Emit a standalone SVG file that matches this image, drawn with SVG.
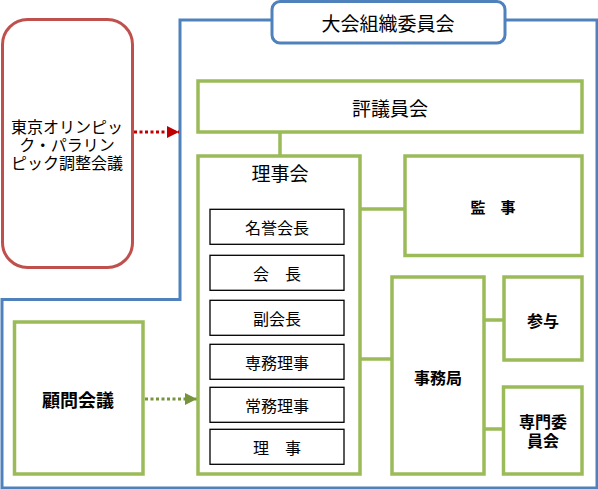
<svg xmlns="http://www.w3.org/2000/svg" width="598" height="489" viewBox="0 0 598 489">
<defs>
<style>
text{font-family:"Noto Sans CJK JP","Noto Sans CJK SC",sans-serif;fill:#000;text-anchor:middle;dominant-baseline:central}
text.ml{font-family:"Liberation Sans","Noto Sans CJK JP","Noto Sans CJK SC",sans-serif}
.g{fill:#fff;stroke:#9BBB59;stroke-width:3.5}
.b{fill:#fff;stroke:#000;stroke-width:1.3}
.c{fill:none;stroke:#9BBB59;stroke-width:3.5}
.t19{font-size:19px}
.t18{font-size:18px}
.t16{font-size:16px}
.t15{font-size:15px}
.bd{font-weight:bold}
</style>
<marker id="ar" viewBox="0 0 10 10" refX="10" refY="5" markerWidth="4" markerHeight="4" orient="auto" markerUnits="strokeWidth"><path d="M0,0 L10,5 L0,10 z" fill="#C00000"/></marker>
<marker id="ag" viewBox="0 0 10 10" refX="10" refY="5" markerWidth="4" markerHeight="4" orient="auto" markerUnits="strokeWidth"><path d="M0,0 L10,5 L0,10 z" fill="#77933C"/></marker>
</defs>
<rect width="598" height="489" fill="#fff"/>
<g id="organizing-committee">
<path d="M180,20 H597 V488 H2 V299.5 H180 Z" fill="none" stroke="#4F81BD" stroke-width="3"/>
<rect x="272" y="1.5" width="233" height="41.5" rx="8" fill="#fff" stroke="#4F81BD" stroke-width="3"/>
<text class="t19" x="388" y="22">大会組織委員会</text>
</g>
<g id="coordination">
<rect x="2.5" y="19.5" width="130" height="248" rx="25" fill="#fff" stroke="#C0504D" stroke-width="3"/>
<text class="t16 ml" x="67" y="127">東京オリンピッ</text>
<text class="t16 ml" x="67" y="145">ク・パラリン</text>
<text class="t16 ml" x="67" y="163">ピック調整会議</text>
</g>
<g id="connectors">
<line x1="134" y1="132" x2="179" y2="132" stroke="#C00000" stroke-width="3" stroke-dasharray="3,2.5" marker-end="url(#ar)"/>
<line x1="145" y1="399" x2="197" y2="399" stroke="#77933C" stroke-width="3" stroke-dasharray="3,2.5" marker-end="url(#ag)"/>
<line class="c" x1="280" y1="132" x2="280" y2="156"/>
<line class="c" x1="360" y1="209" x2="405" y2="209"/>
<line class="c" x1="360" y1="359" x2="392" y2="359"/>
<line class="c" x1="484" y1="320" x2="504" y2="320"/>
<line class="c" x1="484" y1="429" x2="504" y2="429"/>
</g>
<g id="councillors">
<rect class="g" x="198" y="81" width="384" height="51"/>
<text class="t19" x="390" y="107">評議員会</text>
</g>
<g id="board">
<rect class="g" x="198" y="156" width="162" height="318"/>
<text class="t19" x="280" y="172">理事会</text>
</g>
<g id="honorary-president"><rect class="b" x="210" y="209.3" width="134" height="35"/><text class="t16" x="277" y="226.5">名誉会長</text></g>
<g id="president"><rect class="b" x="210" y="255.3" width="134" height="35"/><text class="t16" x="277" y="272.5">会　長</text></g>
<g id="vice-president"><rect class="b" x="210" y="300.3" width="134" height="35"/><text class="t16" x="277" y="317.5">副会長</text></g>
<g id="executive-director"><rect class="b" x="210" y="344.3" width="134" height="35"/><text class="t16" x="277" y="361.5">専務理事</text></g>
<g id="managing-director"><rect class="b" x="210" y="387.3" width="134" height="35"/><text class="t16" x="277" y="404.5">常務理事</text></g>
<g id="director"><rect class="b" x="210" y="429.3" width="134" height="35"/><text class="t16" x="277" y="446.5">理　事</text></g>
<g id="auditor">
<rect class="g" x="405" y="156" width="177" height="99.5"/>
<text class="t15 bd" x="493" y="206">監　事</text>
</g>
<g id="secretariat">
<rect class="g" x="392" y="277" width="92" height="197"/>
<text class="t16 bd" x="438" y="377">事務局</text>
</g>
<g id="counselor">
<rect class="g" x="504" y="277" width="78" height="83"/>
<text class="t16 bd" x="543" y="320">参与</text>
</g>
<g id="expert-committee">
<rect class="g" x="503.5" y="387" width="78.5" height="87"/>
<text class="t16 bd ml" x="543" y="422">専門委</text>
<text class="t16 bd ml" x="543" y="441">員会</text>
</g>
<g id="advisory">
<rect class="g" x="14.5" y="322" width="128.5" height="152"/>
<text class="t18 bd" x="78" y="399">顧問会議</text>
</g>
</svg>
